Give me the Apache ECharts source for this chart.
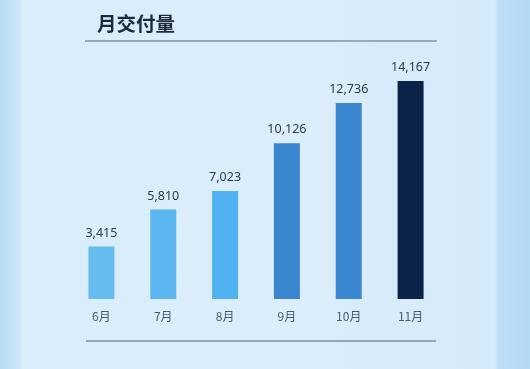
<!DOCTYPE html>
<html><head><meta charset="utf-8">
<script src="https://cdn.jsdelivr.net/npm/echarts@6/dist/echarts.min.js"></script>
<style>
html,body{margin:0;padding:0;}
body{width:530px;height:369px;background:linear-gradient(90deg,#b8dcf6 0px,#cde6f9 20px,#d9edfb 22px,#dcedfb 300px,#d5eafa 495px,#bcdff7 498px,#b4d9f5 530px);}
#c{width:530px;height:369px;}
</style></head><body><div id="c"></div>
<script>
const categories = ['6月','7月','8月','9月','10月','11月'];
const values = [3415, 5810, 7023, 10126, 12736, 14167];
const barColors = ['#66bbef','#5cb6f0','#50b2f1','#3a86cf','#3b87d0','#0b2249'];
const title = '月交付量';

const chart = echarts.init(document.getElementById('c'));
chart.setOption({
  backgroundColor: 'transparent',
  animation: false,
  title: {
    text: title, left: 92, top: 9,
    textStyle: {fontFamily: 'Noto Sans CJK SC', fontSize: 19.5, fontWeight: 'bold', color: '#1c2a3d'}
  },
  graphic: [
    {type: 'line', shape: {x1: 85, y1: 41, x2: 437, y2: 41}, style: {stroke: '#97a9bb', lineWidth: 2}},
    {type: 'line', shape: {x1: 86, y1: 341, x2: 436, y2: 341}, style: {stroke: '#7e90a3', lineWidth: 1.5}}
  ],
  grid: {left: 70.5, right: 88.5, top: 68.2, bottom: 70},
  xAxis: {
    type: 'category', data: categories,
    axisLine: {show: false}, axisTick: {show: false},
    axisLabel: {margin: 11, color: '#4a5a6c', fontSize: 12, fontFamily: 'Noto Sans CJK SC'}
  },
  yAxis: {type: 'value', min: 0, max: 15000, show: false, splitLine: {show: false}},
  series: [{
    type: 'bar', barWidth: 26,
    data: values.map((v, i) => ({value: v, itemStyle: {color: barColors[i]}})),
    label: {
      show: true, position: 'top', distance: 7,
      color: '#2b3a4c', fontSize: 12.5, fontFamily: 'Noto Sans',
      formatter: p => p.value.toLocaleString('en-US')
    }
  }]
});
</script></body></html>
